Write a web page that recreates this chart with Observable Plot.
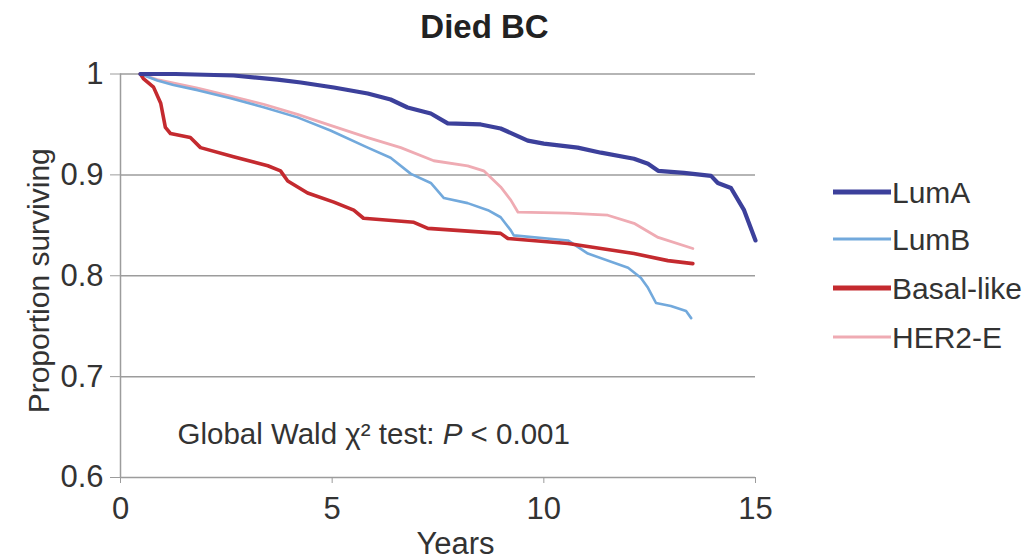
<!DOCTYPE html>
<html><head><meta charset="utf-8">
<script src="https://cdn.jsdelivr.net/npm/d3@7"></script>
<script src="https://cdn.jsdelivr.net/npm/@observablehq/plot@0.6"></script>
<style>
body{margin:0;background:#fff;}
#wrap{position:relative;width:1030px;height:560px;font-family:"Liberation Sans",Arial,Helvetica,sans-serif;}
#legend{position:absolute;left:0;top:0;}
</style></head><body><div id="wrap"></div>
<script>
const chartTitle = "Died BC";
const xLabel = "Years";
const yLabel = "Proportion surviving";
const note = "Global Wald χ² test: P < 0.001";
const seriesNames = ["LumA", "LumB", "Basal-like", "HER2-E"];
const seriesColors = ["#3c409b", "#72a9dc", "#c42a2f", "#efabb3"];
const xTicks = [0, 5, 10, 15];
const yTicks = [0.6, 0.7, 0.8, 0.9, 1];
const gridTicks = [0.7, 0.8, 0.9, 1];

const lumAYears = [0.47, 1.3, 2.67, 3.71, 4.26, 5.04, 5.84, 6.38, 6.78, 7.33, 7.73, 8.51, 8.98, 9.62, 10.0, 10.8, 11.35, 12.13, 12.46, 12.7, 13.31, 13.95, 14.11, 14.42, 14.73, 15.0];
const lumASurv  = [1.0, 1.0, 0.9985, 0.9945, 0.9916, 0.9866, 0.9807, 0.9747, 0.9668, 0.9609, 0.951, 0.950, 0.946, 0.934, 0.931, 0.927, 0.922, 0.916, 0.911, 0.904, 0.902, 0.899, 0.892, 0.887, 0.865, 0.835];

const lumBYears = [0.47, 0.87, 1.25, 1.82, 2.6, 3.38, 4.18, 4.96, 5.84, 6.38, 6.86, 7.33, 7.64, 8.2, 8.68, 8.98, 9.22, 9.29, 10.57, 11.04, 11.99, 12.29, 12.46, 12.65, 13.0, 13.36, 13.48];
const lumBSurv  = [1.0, 0.9936, 0.989, 0.984, 0.976, 0.967, 0.957, 0.944, 0.927, 0.917, 0.901, 0.892, 0.877, 0.872, 0.865, 0.858, 0.845, 0.84, 0.835, 0.822, 0.808, 0.798, 0.788, 0.773, 0.77, 0.765, 0.758];

const basalYears = [0.47, 0.54, 0.78, 0.95, 1.06, 1.18, 1.65, 1.89, 2.67, 3.48, 3.78, 3.95, 4.42, 5.04, 5.51, 5.74, 6.93, 7.26, 8.98, 9.15, 10.57, 12.13, 12.93, 13.52];
const basalSurv  = [1.0, 0.9955, 0.987, 0.971, 0.947, 0.941, 0.937, 0.927, 0.918, 0.909, 0.904, 0.894, 0.882, 0.873, 0.865, 0.857, 0.853, 0.847, 0.842, 0.837, 0.832, 0.822, 0.815, 0.812];

const her2Years = [0.47, 0.87, 1.82, 2.6, 3.38, 4.18, 4.96, 5.84, 6.62, 7.4, 8.2, 8.58, 8.98, 9.22, 9.39, 10.57, 11.51, 12.13, 12.7, 13.52];
const her2Surv  = [1.0, 0.9945, 0.986, 0.978, 0.97, 0.96, 0.949, 0.937, 0.927, 0.914, 0.909, 0.904, 0.888, 0.875, 0.863, 0.862, 0.86, 0.852, 0.838, 0.827];

const seriesYears = [lumAYears, lumBYears, basalYears, her2Years];
const seriesSurv = [lumASurv, lumBSurv, basalSurv, her2Surv];
const rows = seriesNames.map((name, i) => seriesYears[i].map((t, j) => ({series: name, year: t, surv: seriesSurv[i][j]})));

const widths = {"LumA": 4.2, "LumB": 2.6, "Basal-like": 3.6, "HER2-E": 2.8};
const drawOrder = [3, 1, 2, 0];
const gray = "#9c9c9c";

const plot = Plot.plot({
  width: 1030, height: 560,
  marginLeft: 120, marginRight: 275, marginTop: 73.5, marginBottom: 83,
  style: {fontSize: "31px", fontFamily: "Liberation Sans, Arial, Helvetica, sans-serif", color: "#333", background: "#fff", overflow: "visible"},
  x: {domain: [0, 15]},
  y: {domain: [0.6, 1]},
  marks: [
    Plot.gridY(gridTicks, {stroke: gray, strokeOpacity: 1, strokeWidth: 1.5}),
    Plot.ruleY([0.6], {stroke: gray, strokeWidth: 1.5}),
    Plot.ruleX([0], {stroke: gray, strokeWidth: 1.5}),
    Plot.axisY(yTicks, {tickSize: 10, tickPadding: 7, tickFormat: d => String(d), stroke: gray, fill: "#333", label: null}),
    Plot.axisX(xTicks, {tickSize: 6, tickPadding: 13, tickFormat: d => String(d), stroke: gray, fill: "#333", label: null}),
    ...drawOrder.map(i => Plot.line(rows[i], {x: "year", y: "surv", stroke: seriesColors[i], strokeWidth: widths[seriesNames[i]], strokeLinejoin: "round", strokeLinecap: "round"})),
    Plot.text([chartTitle], {frameAnchor: "top", dx: 46.5, dy: -36, lineAnchor: "bottom", fontWeight: "bold", fontSize: 33, fill: "#222"}),
    Plot.text([xLabel], {frameAnchor: "bottom", dx: 17.5, dy: 76, lineAnchor: "bottom", fontSize: 31, fill: "#333"}),
    Plot.text([yLabel], {frameAnchor: "left", dx: -72, dy: 5, rotate: -90, textAnchor: "middle", lineAnchor: "bottom", fontSize: 30, fill: "#333"}),
    Plot.text([note], {frameAnchor: "bottom-left", dx: 57, dy: -34, lineAnchor: "bottom", textAnchor: "start", fontSize: 29.5, fill: "#333"})
  ]
});

// italic P in the annotation
d3.select(plot).selectAll("text").filter(function () { return this.textContent === note; }).each(function () {
  const t = d3.select(this);
  const parts = note.split("P");
  t.text(null);
  t.append("tspan").text(parts[0]);
  t.append("tspan").attr("font-style", "italic").text("P");
  t.append("tspan").text(parts[1]);
});

const wrap = document.getElementById("wrap");
wrap.appendChild(plot);

// legend
const legendY = [192, 239, 288, 337];
const legendW = [5, 3, 5, 3];
const leg = d3.select(wrap).append("svg").attr("id", "legend").attr("width", 1030).attr("height", 560)
  .style("pointer-events", "none");
seriesNames.forEach((name, i) => {
  leg.append("line").attr("x1", 833).attr("x2", 891).attr("y1", legendY[i]).attr("y2", legendY[i])
    .attr("stroke", seriesColors[i]).attr("stroke-width", legendW[i]);
  leg.append("text").attr("x", 892).attr("y", legendY[i]).attr("dy", "0.36em")
    .attr("font-family", "Liberation Sans, Arial, Helvetica, sans-serif").attr("font-size", 30).attr("fill", "#333").text(name);
});
</script>
</body></html>
